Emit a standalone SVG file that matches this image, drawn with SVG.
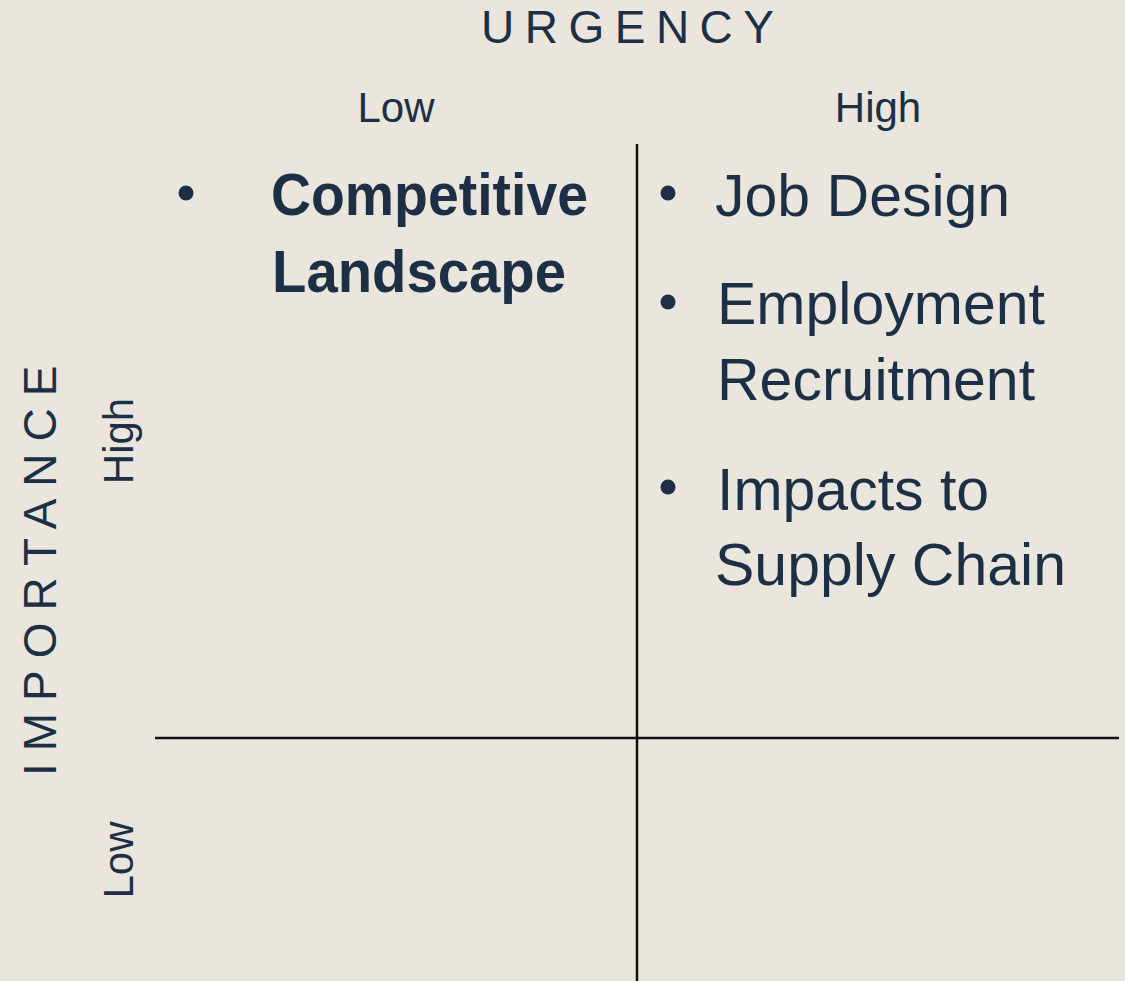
<svg xmlns="http://www.w3.org/2000/svg" width="1125" height="981" viewBox="0 0 1125 981">
  <style>
    .t { font-family: "Liberation Sans", Arial, sans-serif; fill: #1c2f44; }
    .axis { font-size: 46px; }
    .lvl { font-size: 42px; }
    .item { font-size: 59px; }
    .bold { font-weight: bold; }
    .bullet { fill: #1c2f44; }
    .grid { stroke: #111111; stroke-width: 2.5; fill: none; }
  </style>
  <rect width="1125" height="981" fill="#eae6dd"/>

  <!-- quadrant dividers -->
  <g id="connectors">
    <line class="grid" x1="637" y1="144" x2="637" y2="981"/>
    <line class="grid" x1="155" y1="738" x2="1119" y2="738"/>
  </g>

  <!-- axis titles -->
  <g id="axis-urgency">
    <text class="t axis" x="481" y="43" letter-spacing="10.5">URGENCY</text>
  </g>
  <g id="axis-importance">
    <text class="t axis" transform="translate(56,776) rotate(-90)" letter-spacing="12">IMPORTANCE</text>
  </g>

  <!-- level labels -->
  <g id="urgency-low"><text class="t lvl" x="396" y="122" text-anchor="middle">Low</text></g>
  <g id="urgency-high"><text class="t lvl" x="878" y="122" text-anchor="middle">High</text></g>
  <g id="importance-high"><text class="t lvl" transform="translate(133,441) rotate(-90)" text-anchor="middle">High</text></g>
  <g id="importance-low"><text class="t lvl" transform="translate(133,860) rotate(-90)" text-anchor="middle">Low</text></g>

  <!-- quadrant: important, not urgent -->
  <g id="q-competitive">
    <circle class="bullet" cx="186" cy="193" r="7.5"/>
    <text class="t item bold" x="271" y="215" textLength="317" lengthAdjust="spacingAndGlyphs">Competitive</text>
    <text class="t item bold" x="272" y="292" textLength="294" lengthAdjust="spacingAndGlyphs">Landscape</text>
  </g>

  <!-- quadrant: important and urgent -->
  <g id="q-job-design">
    <circle class="bullet" cx="668" cy="193" r="7.5"/>
    <text class="t item" x="715" y="216">Job Design</text>
  </g>
  <g id="q-employment">
    <circle class="bullet" cx="668" cy="302" r="7.5"/>
    <text class="t item" x="717" y="324">Employment</text>
    <text class="t item" x="717" y="400">Recruitment</text>
  </g>
  <g id="q-supply-chain">
    <circle class="bullet" cx="668" cy="487" r="7.5"/>
    <text class="t item" x="717" y="510">Impacts to</text>
    <text class="t item" x="715" y="585">Supply Chain</text>
  </g>
</svg>
